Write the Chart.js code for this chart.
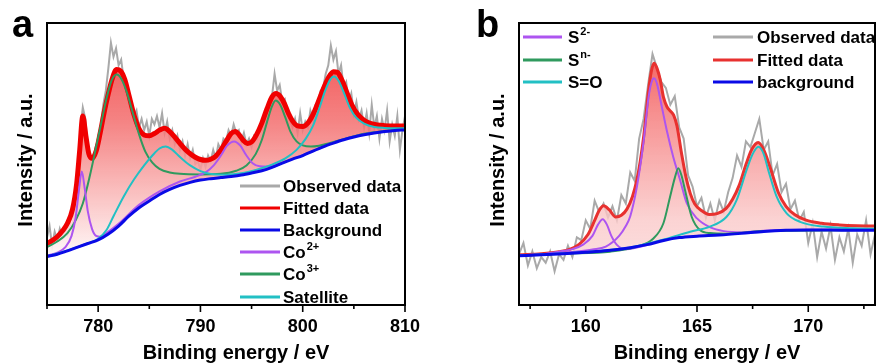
<!DOCTYPE html>
<html>
<head>
<meta charset="utf-8">
<script src="https://cdn.jsdelivr.net/npm/chart.js@4.4.1/dist/chart.umd.min.js"></script>
<style>
  html, body { margin: 0; padding: 0; background: #fff; }
  #wrapA { position: absolute; left: 0; top: 0; width: 440px; height: 364px; }
  #wrapB { position: absolute; left: 440px; top: 0; width: 437px; height: 364px; }
</style>
</head>
<body>
<div id="wrapA"><canvas id="chartA" width="440" height="364"></canvas></div>
<div id="wrapB"><canvas id="chartB" width="437" height="364"></canvas></div>
<script>
// ---------------- Panel a: Co 2p ----------------
const aObsX = [775,775.25,775.5,775.75,776,776.25,776.5,776.75,777,777.25,777.5,777.75,778,778.25,778.5,778.75,779,779.25,779.5,779.75,780,780.25,780.5,780.75,781,781.25,781.5,781.75,782,782.25,782.5,782.75,783,783.25,783.5,783.75,784,784.25,784.5,784.75,785,785.25,785.5,785.75,786,786.25,786.5,786.75,787,787.25,787.5,787.75,788,788.25,788.5,788.75,789,789.25,789.5,789.75,790,790.25,790.5,790.75,791,791.25,791.5,791.75,792,792.25,792.5,792.75,793,793.25,793.5,793.75,794,794.25,794.5,794.75,795,795.25,795.5,795.75,796,796.25,796.5,796.75,797,797.25,797.5,797.75,798,798.25,798.5,798.75,799,799.25,799.5,799.75,800,800.25,800.5,800.75,801,801.25,801.5,801.75,802,802.25,802.5,802.75,803,803.25,803.5,803.75,804,804.25,804.5,804.75,805,805.25,805.5,805.75,806,806.25,806.5,806.75,807,807.25,807.5,807.75,808,808.25,808.5,808.75,809,809.25,809.5,809.75,810];
const aObsY = [24,28,21,26,23,27,24,27,25,29,27,36,45,62,70,66,55,52,51,56,58,63,71,76,84,93,88,91,85,87,80,77,73,70,67,69,63,66,62,65,60,66,64,67,63,68,61,65,59,62,57,60,55,58,53,57,52,55,50,51,48,52,49,53,51,55,52,57,55,59,58,62,60,64,61,62,58,61,57,59,56,60,59,63,64,68,69,73,74,82,76,78,72,73,68,66,63,66,61,68,62,65,63,69,66,71,72,76,77,82,85,92,87,90,82,85,77,79,72,75,68,72,66,69,63,68,61,71,63,67,59,66,62,69,58,64,60,67,55,62,67];

const aFitX = [775,775.5,776,776.5,777,777.5,777.9,778.2,778.5,778.8,779.1,779.4,779.8,780.2,780.6,781,781.4,781.8,782.2,782.6,783,783.5,784,784.5,785,785.5,786,786.5,787,787.5,788,788.5,789,789.5,790,790.5,791,791.5,792,792.5,793,793.4,793.8,794.2,794.6,795,795.5,796,796.5,797,797.4,797.8,798.2,798.6,799,799.5,800,800.5,801,801.5,802,802.5,803,803.4,803.8,804.3,804.8,805.4,806,806.6,807.3,808,809,810];
const aFitY = [21.8,22.8,24.2,26.2,29,34,43,55,67,60,53.5,52,54.5,61,68.5,75,80.5,83.5,83,80,74.5,67.5,62.5,60.3,60,60.8,62,62.7,61.5,59.5,57.3,55.2,53.6,52.4,51.6,51.3,51.7,52.8,55,58,60.8,61.5,60.3,58.3,57.3,57.8,60.5,64.5,69.5,73.8,75,74,71.5,68,65.3,63.5,63.3,64.5,67.5,71.8,76.5,80.5,82.7,82.5,80,75.5,71,67.5,65.5,64.4,63.8,63.6,63.5,63.5];

const aBgX = [775,776,777,778,779,780,781,782,783,784,785,786,787,788,789,790,791,792,793,794,795,796,797,798,799,800,801,802,803,804,805,806,807,808,809,810];
const aBgY = [17.2,18,19.2,20.5,21.8,23.1,25.2,28,31.5,34.5,36.9,39.2,41,42.4,43.5,44.3,44.8,45.2,45.6,46.1,46.8,47.6,48.8,50.3,51.7,53,54.6,56.1,57.4,58.6,59.6,60.4,61,61.5,61.9,62.1];

const aCo2X = [775,776,776.8,777.4,777.8,778.1,778.4,778.7,779,779.4,779.8,780.2,780.8,782,784,786,788,789.5,790.5,791.3,792,792.6,793.3,793.9,794.5,795.1,795.8,796.5,797.2,798,800,803,806,810];
const aCo2Y = [17.5,18.6,20.5,24.5,31,40,47.3,41,33,27,24.5,24.2,25.5,28.8,35.5,40.3,43.8,45.5,47,49.5,53,56.5,58,56.5,53,50.3,49.2,49.1,49.2,50.4,53.1,57.5,60.5,62.2];

const aCo3X = [775,776,777,777.8,778.5,779.2,779.8,780.3,780.8,781.3,781.8,782.3,782.8,783.4,784,784.6,785.3,786,787,788,790,792,793.5,794.5,795.4,796,796.6,797,797.35,797.8,798.3,798.8,799.4,800,800.8,801.6,802.5,804,806,808,810];
const aCo3Y = [20.5,22.5,25.5,30,36,46,56,64.5,73,79.5,81.7,80,75.5,68,60.5,54.5,50.5,48.3,47,46.5,46.3,46.5,47.6,49.5,53.5,58.5,66,70.5,72.5,71,66.5,61.5,58,56.6,56.2,56.5,57.3,58.8,60.7,61.7,62.3];

const aSatX = [775,777,779,780,780.8,781.5,782.5,783.5,784.5,785.3,786,786.6,787.2,788,789,790,791,792.5,794,795.5,797,798.3,799.4,800.3,801,801.6,802.2,802.7,803.05,803.5,804,804.6,805.2,806,807,808,810];
const aSatY = [17.3,19.3,21.9,23.5,26.5,31.5,38.5,44.5,49.5,53,55.5,56.2,55.2,52.5,49.5,47.5,46.5,46.2,46.7,48,49.8,52,55,59,63.5,69.5,76,80,81,79.5,75.5,70,66.5,64.3,63.1,62.8,62.7];

// ---------------- Panel b: S 2p ----------------
const bObsX = [157,157.2,157.4,157.6,157.8,158,158.2,158.4,158.6,158.8,159,159.2,159.4,159.6,159.8,160,160.2,160.4,160.6,160.8,161,161.2,161.4,161.6,161.8,162,162.2,162.4,162.6,162.8,163,163.2,163.4,163.6,163.8,164,164.2,164.4,164.6,164.8,165,165.2,165.4,165.6,165.8,166,166.2,166.4,166.6,166.8,167,167.2,167.4,167.6,167.8,168,168.2,168.4,168.6,168.8,169,169.2,169.4,169.6,169.8,170,170.2,170.4,170.6,170.8,171,171.2,171.4,171.6,171.8,172,172.2,172.4,172.6,172.8,173];
const bObsY = [18,22,14,19,13,17,15,19,12,18,16,21,17,24,23,30,27,37,33,36,31,35,30,39,36,47,44,59,66,78,89,84,79,77,71,74,63,59,46,42,35,38,31,36,30,37,33,40,45,53,49,58,56,61,66,55,58,46,50,40,43,34,37,30,33,22,29,17,26,20,28,16,24,19,27,15,25,21,30,18,25];

const bFitX = [157,158,158.8,159.3,159.7,160.1,160.4,160.6,160.8,161.05,161.35,161.6,161.85,162.1,162.3,162.45,162.6,162.7,162.82,162.95,163.07,163.2,163.35,163.5,163.65,163.8,163.95,164.1,164.3,164.5,164.7,164.9,165.2,165.55,165.9,166.3,166.6,166.9,167.2,167.45,167.75,168,168.3,168.65,169,169.4,169.9,170.6,171.4,172.2,173];
const bFitY = [17.8,18.2,18.9,19.8,21.5,25,30,33.5,35.2,33.8,31.2,31.8,34,38.5,44.5,51,59.5,67,76,83,85.7,84,79.8,73.5,70.3,68.8,67.3,63.5,54,45.5,39.5,35.8,33.5,32.1,32.4,34.2,37.5,42.5,49.8,55,57.6,55,48.5,40,35,32,30.1,29,28.4,28.1,28];

const bBgX = [157,158,159,160,161,162,162.8,163.5,164.2,165,166,167,168,169,170,171,172,173];
const bBgY = [17.5,17.8,18.2,18.7,19.3,20.3,21.5,22.9,23.9,24.4,24.8,25.4,26.1,26.5,26.6,26.6,26.5,26.5];

const bS2aX = [157,158,158.8,159.4,159.9,160.3,160.55,160.76,160.95,161.15,161.4,161.8,162.3,163];
const bS2aY = [17.5,17.9,18.9,19.8,21.5,24.5,28.5,30.4,28.5,24.5,21.3,19.8,20.4,21.7];

const bS2bX = [157,158,159,159.6,160.3,160.9,161.5,161.8,162,162.3,162.6,162.82,162.95,163.07,163.2,163.4,163.64,163.93,164.24,164.54,165,165.6,166.2,167,168,169,170,173];
const bS2bY = [17.6,18,18.6,19,19.7,20.7,24.5,28,31.5,42,58,73.5,78.8,80.4,78.5,71,62,52.6,44.3,36.1,30.7,27.5,26.2,25.8,26.3,26.6,26.7,26.6];

const bSnX = [157,159,161.1,162.3,163.04,163.49,163.79,164,164.16,164.3,164.46,164.76,165.13,165.6,166.3,167,168,173];
const bSnY = [17.5,18.2,18.9,20.7,23.6,29,38.4,45,48.5,46,40.8,31.3,26.6,25.5,25.3,25.6,26.2,26.6];

const bSOX = [157,160,162,163.5,164.69,165.58,166.33,166.78,167.23,167.5,167.76,168,168.2,168.58,169.03,169.63,170.68,172,173];
const bSOY = [17.5,18.8,20.4,23.2,26,27.8,31.3,37.2,47.9,53.5,56.1,53.5,47.9,38.4,32.5,29.5,27.8,27.2,27];

// tick labels
const aTickLabels = [780, 790, 800, 810];
const bTickLabels = [160, 165, 170];

// ---------------- helpers ----------------
const FONT = '"Liberation Sans", Arial, sans-serif';
function pts(xs, ys) { return xs.map((x, i) => ({ x: x, y: ys[i] })); }

const COL = {
  obs: '#a9a9a9',
  fitA: '#f00000',
  fitB: '#e8312f',
  bg: '#0a0ae6',
  co2: '#ad55f0',
  co3: '#2f9a5e',
  sat: '#22c0c4'
};

function gradFill(top, bottom, stops) {
  return function (ctx) {
    const ca = ctx.chart.chartArea;
    if (!ca) return 'rgba(240,80,80,0.5)';
    const g = ctx.chart.ctx.createLinearGradient(0, ca.top, 0, ca.bottom);
    stops.forEach(s => g.addColorStop(s[0], s[1]));
    return g;
  };
}

function line(label, data, color, width, order, extra) {
  return Object.assign({
    label: label, data: data, borderColor: color, borderWidth: width,
    pointRadius: 0, fill: false, cubicInterpolationMode: 'monotone', order: order
  }, extra || {});
}

const framePlugin = {
  id: 'frameDeco',
  afterDatasetsDraw(chart, args, opts) {
    const ctx = chart.ctx, ca = chart.chartArea, xs = chart.scales.x;
    ctx.save();
    // frame
    ctx.strokeStyle = '#000'; ctx.lineWidth = 2;
    ctx.strokeRect(ca.left, ca.top, ca.right - ca.left, ca.bottom - ca.top);
    // ticks (outward), major longer than minor
    ctx.lineWidth = 1.6;
    xs.ticks.forEach(t => {
      const px = xs.getPixelForValue(t.value);
      const major = opts.majors.some(m => Math.abs(m - t.value) < 1e-6);
      ctx.beginPath();
      ctx.moveTo(px, ca.bottom);
      ctx.lineTo(px, ca.bottom + (major ? 7 : 4));
      ctx.stroke();
    });
    // axis titles
    ctx.fillStyle = '#000';
    ctx.font = 'bold 20px ' + FONT;
    ctx.textAlign = 'center'; ctx.textBaseline = 'middle';
    ctx.fillText('Binding energy / eV', (ca.left + ca.right) / 2 + 10, 353);
    ctx.save();
    ctx.translate(opts.yTitleX, 160);
    ctx.rotate(-Math.PI / 2);
    ctx.fillText('Intensity / a.u.', 0, 0);
    ctx.restore();
    // panel letter
    ctx.font = 'bold 38px ' + FONT;
    ctx.textAlign = 'left'; ctx.textBaseline = 'alphabetic';
    ctx.fillText(opts.letter, opts.letterX, 37);
    // legend
    opts.legend.forEach(e => {
      ctx.strokeStyle = e.color; ctx.lineWidth = 3;
      ctx.beginPath(); ctx.moveTo(e.x1, e.y); ctx.lineTo(e.x2, e.y); ctx.stroke();
      ctx.fillStyle = '#000';
      ctx.font = 'bold 17px ' + FONT;
      ctx.textBaseline = 'middle';
      ctx.fillText(e.text, e.tx, e.y + 1);
      if (e.sup) {
        const w = ctx.measureText(e.text).width;
        ctx.font = 'bold 11px ' + FONT;
        ctx.fillText(e.sup, e.tx + w + 1, e.y - 5);
      }
    });
    ctx.restore();
  }
};

function xScale(min, max, step, labels) {
  return {
    type: 'linear', min: min, max: max, position: 'bottom',
    afterFit(scale) { scale.height = 59; },
    grid: { display: false, drawTicks: false },
    border: { display: false },
    ticks: {
      stepSize: step, includeBounds: false, autoSkip: false, maxRotation: 0,
      padding: 11, color: '#000', font: { family: FONT, size: 18, weight: 'bold' },
      callback(v) { return labels.some(m => Math.abs(m - v) < 1e-6) ? String(v) : ''; }
    }
  };
}
const yScale = { type: 'linear', min: 0, max: 100, display: false };

// ---------------- Chart a ----------------
new Chart(document.getElementById('chartA'), {
  type: 'line',
  data: {
    datasets: [
      line('Observed data', pts(aObsX, aObsY), COL.obs, 2, 10, { cubicInterpolationMode: 'default', tension: 0 }),
      line('Fitted data', pts(aFitX, aFitY), COL.fitA, 5, 5, {
        fill: { target: 2 },
        backgroundColor: gradFill(0, 0, [[0, 'rgba(240,60,60,0.95)'], [0.35, 'rgba(243,110,110,0.85)'], [0.85, 'rgba(255,255,255,0.9)'], [1, 'rgba(255,255,255,1)']])
      }),
      line('Background', pts(aBgX, aBgY), COL.bg, 3, 1),
      line('Co2+', pts(aCo2X, aCo2Y), COL.co2, 2, 3),
      line('Co3+', pts(aCo3X, aCo3Y), COL.co3, 2, 4),
      line('Satellite', pts(aSatX, aSatY), COL.sat, 2, 2)
    ]
  },
  options: {
    responsive: false, animation: false, events: [],
    layout: { padding: { left: 47, right: 35, top: 23, bottom: 0 } },
    scales: { x: xScale(775, 810, 5, aTickLabels), y: yScale },
    plugins: {
      legend: { display: false }, tooltip: { enabled: false },
      filler: { propagate: false },
      frameDeco: {
        majors: aTickLabels, letter: 'a', letterX: 12, yTitleX: 26,
        legend: [
          { text: 'Observed data', color: COL.obs, x1: 240, x2: 280, tx: 283, y: 186 },
          { text: 'Fitted data', color: COL.fitA, x1: 240, x2: 280, tx: 283, y: 208 },
          { text: 'Background', color: COL.bg, x1: 240, x2: 280, tx: 283, y: 230 },
          { text: 'Co', sup: '2+', color: COL.co2, x1: 240, x2: 280, tx: 283, y: 252 },
          { text: 'Co', sup: '3+', color: COL.co3, x1: 240, x2: 280, tx: 283, y: 274 },
          { text: 'Satellite', color: COL.sat, x1: 240, x2: 280, tx: 283, y: 297 }
        ]
      }
    }
  },
  plugins: [framePlugin]
});

// ---------------- Chart b ----------------
new Chart(document.getElementById('chartB'), {
  type: 'line',
  data: {
    datasets: [
      line('Observed data', pts(bObsX, bObsY), COL.obs, 2, 10, { cubicInterpolationMode: 'default', tension: 0 }),
      line('Fitted data', pts(bFitX, bFitY), COL.fitB, 3, 6, {
        fill: { target: 2 },
        backgroundColor: gradFill(0, 0, [[0, 'rgba(240,60,60,0.95)'], [0.3, 'rgba(245,120,120,0.85)'], [0.7, 'rgba(250,200,200,0.8)'], [1, 'rgba(253,235,235,0.9)']])
      }),
      line('background', pts(bBgX, bBgY), COL.bg, 3, 1),
      line('S2-', pts(bS2aX, bS2aY), COL.co2, 2, 4),
      line('S2- (2)', pts(bS2bX, bS2bY), COL.co2, 2, 4),
      line('Sn-', pts(bSnX, bSnY), COL.co3, 2, 3),
      line('S=O', pts(bSOX, bSOY), COL.sat, 2, 2)
    ]
  },
  options: {
    responsive: false, animation: false, events: [],
    layout: { padding: { left: 79, right: 2, top: 23, bottom: 0 } },
    scales: { x: xScale(157, 173, 2.5, bTickLabels), y: yScale },
    plugins: {
      legend: { display: false }, tooltip: { enabled: false },
      filler: { propagate: false },
      frameDeco: {
        majors: bTickLabels, letter: 'b', letterX: 36, yTitleX: 58,
        legend: [
          { text: 'S', sup: '2-', color: COL.co2, x1: 83, x2: 122, tx: 128, y: 37 },
          { text: 'S', sup: 'n-', color: COL.co3, x1: 83, x2: 122, tx: 128, y: 60 },
          { text: 'S=O', color: COL.sat, x1: 83, x2: 122, tx: 128, y: 82 },
          { text: 'Observed data', color: COL.obs, x1: 273, x2: 313, tx: 317, y: 37 },
          { text: 'Fitted data', color: COL.fitB, x1: 273, x2: 313, tx: 317, y: 60 },
          { text: 'background', color: COL.bg, x1: 273, x2: 313, tx: 317, y: 82 }
        ]
      }
    }
  },
  plugins: [framePlugin]
});
</script>
</body>
</html>
